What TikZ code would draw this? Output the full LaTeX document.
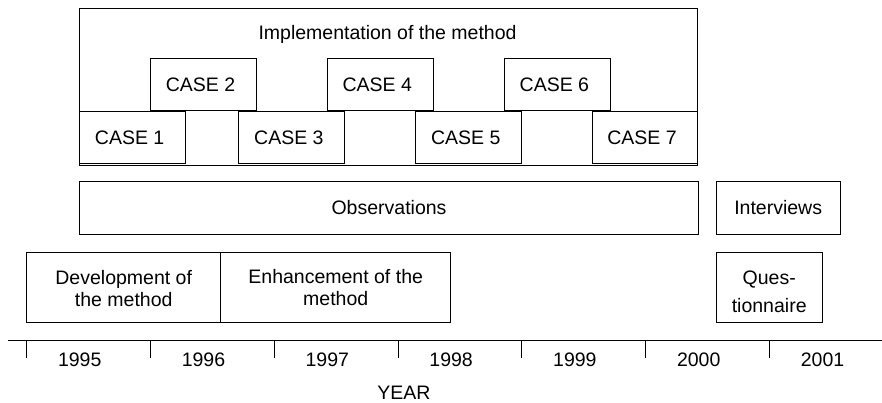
\documentclass[tikz,border=0pt]{standalone}
\usepackage{fontspec}
\setmainfont{Liberation Sans}
\begin{document}
\begin{tikzpicture}[x=1pt,y=-1pt,
  every node/.style={font=\fontsize{19.5}{23}\selectfont, inner sep=0pt},
  frame/.style 2 args={draw=black, line width=1pt, inner sep=0pt,
    minimum width=#1pt, minimum height=#2pt},
  casebox/.style={frame={105.8}{52.5}, execute at begin node={\hspace*{-6pt}}},
  twoline/.style={anchor=north, align=center},
  rule/.style={draw=black, line width=1pt}]
\useasboundingbox (0,0) rectangle (882,403);

% implementation phase with its seven cases
\node[frame={618.5}{156.7}] (impl) at (388.25,87.35) {};
\node[anchor=base] (impltitle) at (387.5,40) {Implementation of the method};
\node[casebox] (case1) at (132.65,137.5) {CASE 1};
\node[casebox] (case2) at (203.5,84.35)  {CASE 2};
\node[casebox] (case3) at (291.85,137.5) {CASE 3};
\node[casebox] (case4) at (380.3,84.35)  {CASE 4};
\node[casebox] (case5) at (468.7,137.5)  {CASE 5};
\node[casebox] (case6) at (557.35,84.35) {CASE 6};
\node[casebox] (case7) at (645,137.5)    {CASE 7};

% observations and interviews
\node[frame={619.4}{52.3}] (obs) at (389,207.85) {Observations};
\node[frame={123.7}{52.3}] (interv) at (778.15,207.85) {Interviews};

% method development, enhancement and questionnaire
\node[frame={194}{70.3}] (devel) at (123.7,287.15) {};
\node[twoline, font=\fontsize{19.5}{22.7}\selectfont] (develtxt) at (123.7,269.8) {Development of\\the method};
\node[frame={230}{70.3}] (enh) at (335.7,287.15) {};
\node[twoline, font=\fontsize{19.5}{21.7}\selectfont] (enhtxt) at (335.7,269.1) {Enhancement of the\\method};
\node[frame={105.7}{70.2}] (quest) at (769.15,287.4) {};
\node[twoline, font=\fontsize{19.5}{27.7}\selectfont] (questtxt) at (769.2,270.6) {Ques-\\tionnaire};

% time axis
\coordinate (axisL) at (8,340.5);
\coordinate (axisR) at (882,340.5);
\draw[rule] (axisL) -- (axisR);
\foreach \i/\yr in {0/1995,1/1996,2/1997,3/1998,4/1999,5/2000,6/2001}{
  \coordinate (t\yr) at ({26.7+123.8*\i},340.5);
  \coordinate (tb\yr) at ({26.7+123.8*\i},358);
  \draw[rule] (t\yr) -- (tb\yr);
  \node[anchor=base] (y\yr) at ({26.7+123.8*\i+53},366) {\yr};
}
\node[anchor=base] (yearlabel) at (403.8,399.5) {YEAR};
\end{tikzpicture}
\end{document}
